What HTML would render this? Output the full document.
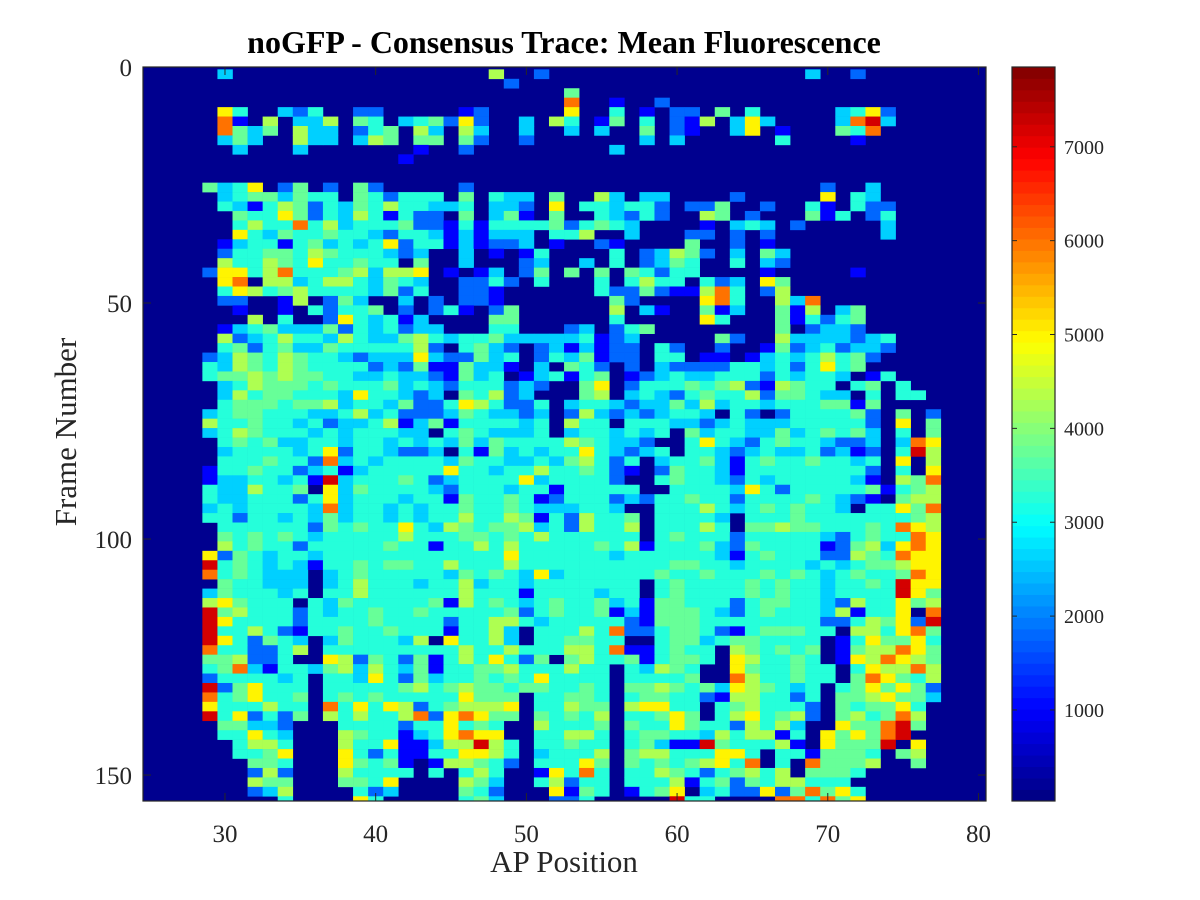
<!DOCTYPE html>
<html><head><meta charset="utf-8"><title>noGFP - Consensus Trace: Mean Fluorescence</title>
<style>
html,body{margin:0;padding:0;background:#fff;}
svg{display:block;font-family:"Liberation Serif","DejaVu Serif",serif;}
</style></head>
<body>
<svg id="chart" width="1200" height="900" viewBox="0 0 1200 900">
  <rect x="0" y="0" width="1200" height="900" fill="#ffffff"/>
  <text x="564" y="53" text-anchor="middle" font-size="32" font-weight="bold" fill="#000">noGFP - Consensus Trace: Mean Fluorescence</text>
  <defs><clipPath id="plotClip"><rect x="143" y="67" width="843" height="734"/></clipPath></defs>
  <rect x="143" y="67" width="843" height="734" fill="#00008f"/>
  <g id="cells" clip-path="url(#plotClip)"></g>
  <g id="axes"></g>
  <g id="cbar"></g>
  <text x="564" y="872" text-anchor="middle" font-size="31" fill="#262626">AP Position</text>
  <text x="0" y="0" transform="translate(76,432) rotate(-90)" text-anchor="middle" font-size="31" fill="#262626">Frame Number</text>
</svg>
<script>
// ---- chart data ----
const apStart = 29;           // AP position of first column
const frameStep = 2;          // frames per data row
const levelValues = [30, 1000, 1800, 2600, 3250, 3750, 4300, 5000, 6000, 7200]; // '.'=0,'1'..'9'
const xTicks = [30, 40, 50, 60, 70, 80];
const yTicks = [0, 50, 100, 150];
const cbarTicks = [1000, 2000, 3000, 4000, 5000, 6000, 7000];
const xLimits = [24.56, 80.5];
const yLimits = [0, 155.5];
const cLimits = [30, 7850];
const rows = [
".3..... ....... .....6. .2..... ....... .....3. .2.....",
"....... ....... ......2 ....... ....... ....... .......",
"....... ....... ....... ...5... ....... ....... .......",
"....... ....... ....... ...8..1 ..2.... ....... .......",
".74..32 4..22.. ...12.. ...7..4 .1.22.5 .4..... 3472...",
".81.6.3 36.54.3 45272.. 3.64.15 .4.216. 373.... 3893...",
".8535.6 33.245. 63.63.. 3..3.3. .5.21.. 37.1... 548....",
".353..6 33.365. 55.52.. 2...... .3.3... ...4... .1.....",
"..3...3 ....... 1..2... ......3 ....... ....... .......",
"....... ......1 ....... ....... ....... ....... .......",
"....... ....... ....... ....... ....... ....... .......",
"....... ....... ....... ....... ....... ....... .......",
"5347.25 .2.52.. ...2... ....... ....... ......2 ..3....",
".345535 44.5424 44.5.43 3.5..63 .33.... 2.....7 .43....",
".431465 2435464 4334.33 2.7.443 442.225 ..2..41 .422...",
"..54475 2436414 22.5.35 1.5..43 242..65 .2...51 4.24...",
"..46448 4634445 2214144 4452454 3....1. 343.2.. ...3...",
"..74354 4544324 4313133 3.446.. 3...22. 2.2.... ...3...",
".134414 5343472 4413122 3.1..21 ....5.. 2.1.... .......",
".244554 6544432 3..3.1. 14....4 .23652. 3.53... .......",
".644654 744544. 5..3... 23..3.4 .2354.. 4.32... .......",
"2774684 4456366 7.1.13. 25.5.5. 54244.. ..1.... .1.....",
".78.663 4664354 3..2242 .4...4. 4644.42 3.75... .......",
".476456 4444352 4..221. .....42 2521168 4.26... .......",
".22..16 .253..3 .2.221. ......5 2....78 4..638. .......",
"..1..1. 42445.2 .241.25 ......6 .31..51 3..516. 35.....",
"...6.4. .274341 3....55 ......4 .....74 ...5142 45.....",
".134533 3524342 33...44 ...23.2 45..... ...5.23 32.....",
".623464 4364335 6434453 3333412 3.....5 2..6333 3234...",
".452453 3544444 62.4532 .231312 2.42..2 ..15234 2332...",
"2365465 4432333 7322534 .243512 2.44.11 .134346 452....",
"4365465 4444232 5115331 .3.542. 2.32222 4434247 45.....",
"4556565 5443343 321534. 134145. 1234334 4424344 3.14...",
".346555 4544453 4324442 32..57. 2444545 6216544 .45.4..",
".364554 4437443 23.5462 3...56. 3432454 4625543 3.4.44.",
".455545 5634435 2247642 24.3443 2335363 4434445 515....",
"3455444 3346342 2235433 23.2632 323443. 42.2444 452.5.2",
"6445443 4233461 3514444 34.644. 4443323 4333444 442.7.5",
"3465444 3434443 3.45433 34.3443 434.534 4335345 453.4.5",
".454533 4434434 3435354 4446543 32..474 3245443 223.387",
".344443 4724432 23.4153 4344743 234.443 2343342 312.496",
".444544 2834344 4435443 3435642 4.34453 1454454 434.7.6",
"1445442 3413444 4474434 4644542 1.25443 1444444 442.4.7",
"1334434 1934445 4234444 7344442 ..45443 2434444 431.658",
"4336445 .735444 4324443 4414444 4..4444 3742444 4451456",
"4334442 4734443 4415445 4124442 3244544 2444454 321.566",
"3434444 3834434 3445445 4333443 ..44464 3454544 3.44758",
"4424434 3534434 3446446 5142644 5.44443 .444544 4444456",
".444444 2545447 4365455 6342644 6.44464 .556554 4454876",
".545454 3444446 4445545 4644444 4.45444 2444443 2454487",
".645442 4444454 4144646 4444454 6144453 2544441 2563787",
"7254344 3444444 4444447 4444443 4444443 1454442 2654877",
"9454343 1445455 4464446 4444444 4445544 3444434 3455677",
"8454333 .345444 4435454 3734444 4454454 4454543 4544587",
".544333 .346444 3446344 3444444 4.45444 4545443 4454977",
"3544434 .446444 4446444 1444434 4.45444 4545443 4444975",
"675444. 4354444 4516454 3454453 4155444 2455443 2644756",
"9564442 4344544 5444445 2454451 3155543 2454443 61447.8",
"9744442 4444544 4424466 4344444 2155544 4444442 2465729",
"9446421 4454454 4414463 .444648 2245542 1455544 .664785",
"9742543 .354443 6.74463 .445544 ..45534 554444. 1475574",
"8442246 .444444 4446446 4446648 114544. 654545. 1566875",
"556224. .762542 5146474 25.5644 514554. 764454. 1768765",
"4583144 3563643 5144556 444644. 43654.. 7544544 .476686",
"2444434 .443742 5344545 474444. 44445.. 8644544 .587546",
"9257444 .444445 6456554 554454. 5565453 765434. 4575752",
"8457445 .454544 4447555 .44554. 4554421 664424. 5567553",
"7444644 .847476 2456667 .44655. 67744.4 564442. 545574.",
"9472425 .646446 8278755 .54546. 44575.4 674562. 564586.",
".55332. ..44442 447454. .64445. 5447544 26463.. 755895.",
".44743. ..65441 347877. .44664. 4554436 46614.7 57589..",
"..4664. ..64471 1366964 .44544. 4531195 44461.7 5559.7.",
"..4457. ..74241 1447764 .34446. 5664447 74.4415 554.56.",
"...554. ..75451 .166542 .44475. 5454567 48.4.85 556..5.",
"...262. ..64444 .4.464. .17484. 4465424 5646.55 54.....",
"...655. ..5547. ...653. .46244. 4446145 2546644 4......",
"...236. ...423. ...542. ..7154. 1457.34 2272585 74.....",
".....4. ...74.. ...453. ..224.. ...944. ...8848 57....."
];

// ---- geometry ----
const P = {l:143, t:67, r:986, b:801};
const NS = "http://www.w3.org/2000/svg";
function xScale(v){ return P.l + (v - xLimits[0]) / (xLimits[1] - xLimits[0]) * (P.r - P.l); }
function yScale(v){ return P.t + (v - yLimits[0]) / (yLimits[1] - yLimits[0]) * (P.b - P.t); }
function jet(t){
  t = Math.max(0, Math.min(1, t));
  const c = x => Math.round(255 * Math.max(0, Math.min(1, x)));
  return "rgb(" + c(1.5 - Math.abs(4*t - 3)) + "," + c(1.5 - Math.abs(4*t - 2)) + "," + c(1.5 - Math.abs(4*t - 1)) + ")";
}
function colorOf(v){ return jet((v - cLimits[0]) / (cLimits[1] - cLimits[0])); }
function mk(tag, attrs){ const e = document.createElementNS(NS, tag); for (const k in attrs) e.setAttribute(k, attrs[k]); return e; }

// ---- heatmap cells ----
const cellsG = document.getElementById("cells");
rows.forEach((rowStr, r) => {
  const s = rowStr.replace(/\s+/g, "");
  for (let c = 0; c < s.length; c++) {
    const ch = s[c];
    if (ch === ".") continue;
    const value = levelValues[parseInt(ch, 10)];
    const ap = apStart + c;
    const f0 = r * frameStep + 0.5;
    const x0 = xScale(ap - 0.5), x1 = xScale(ap + 0.5);
    const y0 = yScale(f0), y1 = yScale(f0 + frameStep);
    const rect = mk("rect", {x: x0.toFixed(2), y: y0.toFixed(2), width: (x1 - x0 + 0.3).toFixed(2), height: (y1 - y0 + 0.3).toFixed(2), fill: colorOf(value)});
    
    
    cellsG.appendChild(rect);
  }
});

// ---- axes ----
const axesG = document.getElementById("axes");
const frame = mk("rect", {x: P.l, y: P.t, width: P.r - P.l, height: P.b - P.t, fill: "none", stroke: "#262626", "stroke-width": 1.2});


axesG.appendChild(frame);
xTicks.forEach(v => {
  const x = xScale(v);
  const t1 = mk("line", {x1: x, y1: P.b, x2: x, y2: P.b - 8, stroke: "#262626", "stroke-width": 1});
  
  
  axesG.appendChild(t1);
  const t2 = mk("line", {x1: x, y1: P.t, x2: x, y2: P.t + 8, stroke: "#262626", "stroke-width": 1});
  
  
  axesG.appendChild(t2);
  const lb = mk("text", {x: x, y: P.b + 41, "text-anchor": "middle", "font-size": 25, fill: "#262626"});
  lb.textContent = v;
  
  
  axesG.appendChild(lb);
});
yTicks.forEach(v => {
  const y = yScale(v);
  const t1 = mk("line", {x1: P.l, y1: y, x2: P.l + 8, y2: y, stroke: "#262626", "stroke-width": 1});
  
  
  axesG.appendChild(t1);
  const t2 = mk("line", {x1: P.r, y1: y, x2: P.r - 8, y2: y, stroke: "#262626", "stroke-width": 1});
  
  
  axesG.appendChild(t2);
  const lb = mk("text", {x: P.l - 11, y: y + 9, "text-anchor": "end", "font-size": 25, fill: "#262626"});
  lb.textContent = v;
  
  
  axesG.appendChild(lb);
});

// ---- colorbar ----
const cb = {l: 1012, r: 1055, t: 67, b: 801};
const cbG = document.getElementById("cbar");
const nSteps = 64;
for (let i = 0; i < nSteps; i++) {
  const h = (cb.b - cb.t) / nSteps;
  const y = cb.b - (i + 1) * h;
  const seg = mk("rect", {x: cb.l, y: y.toFixed(2), width: cb.r - cb.l, height: (h + 0.4).toFixed(2), fill: jet((i + 0.5) / nSteps)});
  
  
  cbG.appendChild(seg);
}
const cbFrame = mk("rect", {x: cb.l, y: cb.t, width: cb.r - cb.l, height: cb.b - cb.t, fill: "none", stroke: "#262626", "stroke-width": 1.2});


cbG.appendChild(cbFrame);
function cbY(v){ return cb.b - (v - cLimits[0]) / (cLimits[1] - cLimits[0]) * (cb.b - cb.t); }
cbarTicks.forEach(v => {
  const y = cbY(v);
  const t1 = mk("line", {x1: cb.r, y1: y, x2: cb.r - 5, y2: y, stroke: "#262626", "stroke-width": 1});
  
  
  cbG.appendChild(t1);
  const t2 = mk("line", {x1: cb.l, y1: y, x2: cb.l + 5, y2: y, stroke: "#262626", "stroke-width": 1});
  
  
  cbG.appendChild(t2);
  const lb = mk("text", {x: cb.r + 9, y: y + 7, "text-anchor": "start", "font-size": 20, fill: "#262626"});
  lb.textContent = v;
  
  
  cbG.appendChild(lb);
});
</script>
</body></html>
